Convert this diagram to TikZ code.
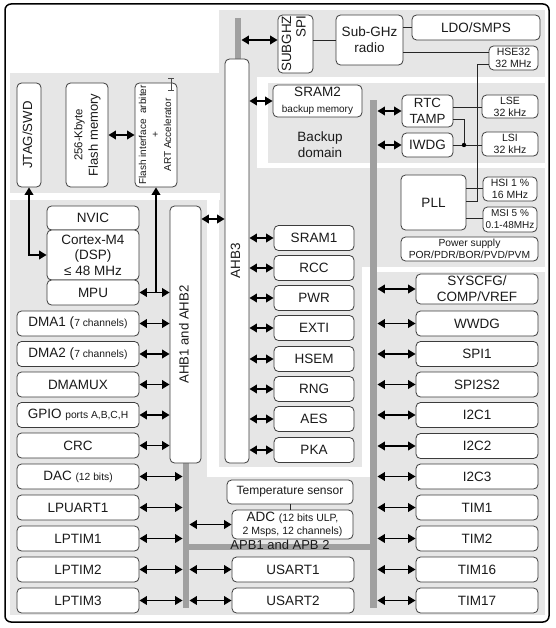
\documentclass[tikz,border=0pt]{standalone}
\usepackage{fontspec}
\setmainfont{Liberation Sans}
\usepackage{graphicx}
\usetikzlibrary{arrows.meta}
\definecolor{bgg}{HTML}{E6E6E6}
\definecolor{busg}{HTML}{A0A0A0}
\definecolor{bordc}{HTML}{3C3C3C}
\definecolor{txtc}{HTML}{1A1A1A}
\newcommand\fsz[2]{\fontsize{#1}{#2}\selectfont}
\newcommand\bx[7][]{\node[box,minimum width={(#5-#3)*1pt},minimum height={(#6-#4)*1pt},#1] (#2) at ({(#3+#5)/2},{(#4+#6)/2}) {#7};}
\newcommand\rottext[2]{\rotatebox{90}{#1\begin{tabular}{@{}c@{}}#2\end{tabular}}}
\newcommand\rottextr[2]{\rotatebox{90}{#1\begin{tabular}{@{}r@{}}#2\end{tabular}}}
\begin{document}
\begin{tikzpicture}[x=1pt,y=-1pt,
  box/.style={draw=bordc,fill=white,rounded corners=4.5pt,line width=0.8pt,inner sep=0pt,align=center,text=txtc,font=\fsz{13.5}{15.5}},
  bus/.style={draw=none,fill=busg,rounded corners=0pt},
  bi/.style={line width=1.8pt,{Triangle[length=7.5pt,width=8.5pt]}-{Triangle[length=7.5pt,width=8.5pt]}},
  uni/.style={line width=1.8pt,-{Triangle[length=7.5pt,width=8.5pt]}},
  wire/.style={line width=0.7pt,draw=black!85},
  lbl/.style={inner sep=0pt,align=center,text=txtc,font=\fsz{13.5}{16}}]
\useasboundingbox (0,0) rectangle (555,628);
\fill[white] (0,0) rectangle (555,628);
% background regions
\fill[bgg] (10,10) rectangle (545,615);
\fill[white] (10,10) rectangle (219,73);
\fill[white] (10,193) rectangle (220,200);
\fill[white] (207,193) rectangle (219,477);
\fill[white] (207,467) rectangle (370,477);
\fill[white] (362,267) rectangle (370,477);
\fill[white] (362,267) rectangle (545,272);
\fill[white] (257,77) rectangle (545,168);
\fill[bgg] (268,83) rectangle (545,163);
\draw[line width=1.5pt,rounded corners=6pt] (5,4) rectangle (549,622);
% buses
\bx[bus]{bTop}{235}{18}{241}{59}{}
\bx[bus]{barR}{370}{100}{377}{608}{}
\bx[bus]{barL}{183}{463}{189}{608}{}
\bx[bus]{barH}{183}{544}{377}{550}{}
% top-left
\bx{jtag}{17}{83}{41}{187}{\rottext{\fsz{13.2}{15}}{JTAG/SWD}}
\bx{flash}{66}{83}{108}{187}{\rottext{}{\fsz{11.4}{14}256-Kbyte\\\fsz{13}{15}Flash memory}}
\bx{flashif}{135}{83}{177}{187}{\rottext{\fsz{10}{12.5}}{Flash interface\ \ arbiter\\+\\ART Accelerator}}
\draw[line width=0.6pt,draw=black!70] (168,78)--(174,78) (171,78)--(171,90) (168,90)--(174,90);
% cortex
\bx{nvic}{47}{206}{139}{230}{NVIC}
\bx[font=\fsz{13.5}{15.5}]{cortex}{47}{230}{139}{280}{Cortex-M4\\(DSP)\\≤ 48 MHz}
\bx{mpu}{47}{280}{139}{305}{MPU}
% left column
\bx{dma1}{17}{311}{139}{336}{DMA1 ({\fsz{10.3}{12}7 channels)}}
\bx{dma2}{17}{341.5}{139}{366.5}{DMA2 ({\fsz{10.3}{12}7 channels)}}
\bx{dmamux}{17}{372}{139}{397}{DMAMUX}
\bx{gpio}{17}{402.5}{139}{427.5}{GPIO {\fsz{10.3}{12}ports A,B,C,H}}
\bx{crc}{17}{433}{139}{458}{CRC}
\bx{dac}{17}{464}{139}{489}{DAC {\fsz{10.3}{12}(12 bits)}}
\bx{lpuart}{17}{495}{139}{520}{LPUART1}
\bx{lptima}{17}{526}{139}{551}{LPTIM1}
\bx{lptimb}{17}{557}{139}{582}{LPTIM2}
\bx{lptimc}{17}{588}{139}{613}{LPTIM3}
% AHB buses
\bx{ahb12}{170}{206}{201}{463}{\rottext{\fsz{13.2}{15}}{AHB1 and AHB2}}
\bx{ahb3}{225}{59}{249}{463}{\rottext{\fsz{13.4}{15}}{AHB3}}
% top right
\bx{subspi}{278}{15}{313}{73}{\rottextr{\fsz{13.4}{14.5}}{SUBGHZ\\SPI}}
\bx[font=\fsz{13.5}{16}]{radio}{336}{15}{403}{65}{Sub-GHz\\radio}
\bx{ldo}{412}{15}{540}{40}{LDO/SMPS}
\bx[font=\fsz{10.5}{12}]{hse}{489}{46}{538}{70}{HSE32\\32 MHz}
% backup domain
\bx{sram2}{273}{85}{362}{117}{SRAM2\\{\fsz{10}{12}backup memory}}
\node[lbl] (bkp) at (320,145) {Backup\\domain};
\bx[font=\fsz{13.3}{16}]{rtc}{402}{95}{453}{127}{RTC\\TAMP}
\bx{iwdg}{402}{133}{453}{157}{IWDG}
\bx[font=\fsz{10.5}{12}]{lse}{482}{95}{538}{118}{LSE\\32 kHz}
\bx[font=\fsz{10.5}{12}]{lsi}{482}{132}{538}{156}{LSI\\32 kHz}
% clocks
\bx{pll}{401}{175}{466}{230}{PLL}
\bx[font=\fsz{10.5}{12}]{hsi}{483}{177}{537}{201}{HSI 1 \%\\16 MHz}
\bx[font=\fsz{10}{12}]{msi}{483}{207}{537}{232}{MSI 5 \%\\0.1-48MHz}
\bx[font=\fsz{10.3}{12}]{power}{401}{237}{538}{261}{Power supply\\POR/PDR/BOR/PVD/PVM}
% AHB3 peripherals
\bx{sram1}{274}{225.5}{354}{250.5}{SRAM1}
\bx{rcc}{274}{255.5}{354}{280.5}{RCC}
\bx{pwr}{274}{285.5}{354}{310.5}{PWR}
\bx{exti}{274}{315.5}{354}{340.5}{EXTI}
\bx{hsem}{274}{346.5}{354}{371.5}{HSEM}
\bx{rng}{274}{376.5}{354}{401.5}{RNG}
\bx{aes}{274}{406.5}{354}{431.5}{AES}
\bx{pka}{274}{437.5}{354}{462.5}{PKA}
% analog / usart
\bx[font=\fsz{12}{14}]{temp}{227}{480}{353}{504}{Temperature sensor}
\bx[font=\fsz{13.5}{13}]{adc}{232}{510}{353}{539}{ADC {\fsz{10.5}{12}(12 bits ULP,}\\{\fsz{10.5}{12}2 Msps, 12 channels)}}
\bx{usarta}{232}{557}{354}{582}{USART1}
\bx{usartb}{232}{588}{354}{613}{USART2}
\node[lbl,font=\fsz{13}{15}] (apbl) at (280,544.5) {APB1 and APB 2};
% right column
\bx[font=\fsz{13.5}{16}]{syscfg}{416}{274}{538}{304}{SYSCFG/\\COMP/VREF}
\bx{wwdg}{416}{311}{538}{336}{WWDG}
\bx{spia}{416}{341.5}{538}{366.5}{SPI1}
\bx{spib}{416}{372}{538}{397}{SPI2S2}
\bx{ictwoa}{416}{402.5}{538}{427.5}{I2C1}
\bx{ictwob}{416}{433.5}{538}{458.5}{I2C2}
\bx{ictwoc}{416}{464}{538}{489}{I2C3}
\bx{tima}{416}{495}{538}{520}{TIM1}
\bx{timb}{416}{526}{538}{551}{TIM2}
\bx{timc}{416}{557}{538}{582}{TIM16}
\bx{timd}{416}{588}{538}{613}{TIM17}
% thick connectors
\draw[bi] (flash.east) -- (flashif.west);
\draw[bi] (jtag.south) |- (cortex.west);
\draw[uni] (mpu.east -| flashif.south) -- (flashif.south);
\draw[bi] (mpu.east) -- (mpu.east -| ahb12.west);
\foreach \n in {dma1,dma2,dmamux,gpio,crc}{\draw[bi] (\n.east) -- (\n.east -| ahb12.west);}
\foreach \n in {dac,lpuart,lptima,lptimb,lptimc}{\draw[bi] (\n.east) -- (\n.east -| barL.west);}
\foreach \n in {adc,usarta,usartb}{\draw[bi] (barL.east |- \n.west) -- (\n.west);}
\draw[bi] (ahb12.east |- 0,219) -- (ahb3.west |- 0,219);
\foreach \n in {sram2,sram1,rcc,pwr,exti,hsem,rng,aes,pka}{\draw[bi] (ahb3.east |- \n.west) -- (\n.west);}
\draw[bi] (bTop.east |- 0,40) -- (subspi.west |- 0,40);
\foreach \n in {rtc,iwdg,syscfg,wwdg,spia,spib,ictwoa,ictwob,ictwoc,tima,timb,timc,timd}{\draw[bi] (barR.east |- \n.west) -- (\n.west);}
% thin wires
\draw[wire] (subspi.east |- radio.west) -- (radio.west);
\draw[wire] (radio.east |- ldo.west) -- (ldo.west);
\draw[wire] (radio.east |- 0,52) -- (hse.west |- 0,52);
\coordinate (hsek) at (477,201);
\draw[wire] (hse.west |- 0,64) -| (hsek) -- (hsek -| pll.east);
\draw[wire] (pll.east |- 0,188) -- (hsi.west |- 0,188);
\draw[wire] (pll.east |- 0,218) -- (msi.west |- 0,218);
\draw[wire] (rtc.east |- 0,107) -- (lse.west |- 0,107);
\coordinate (jd) at (464,145);
\draw[wire] (rtc.east |- 0,119) -| (jd);
\draw[wire] (iwdg.east) -- (iwdg.east -| lsi.west);
\fill (jd) circle (2.2pt);
\draw[wire] (temp.south) -- (temp.south |- adc.north);
\end{tikzpicture}
\end{document}
